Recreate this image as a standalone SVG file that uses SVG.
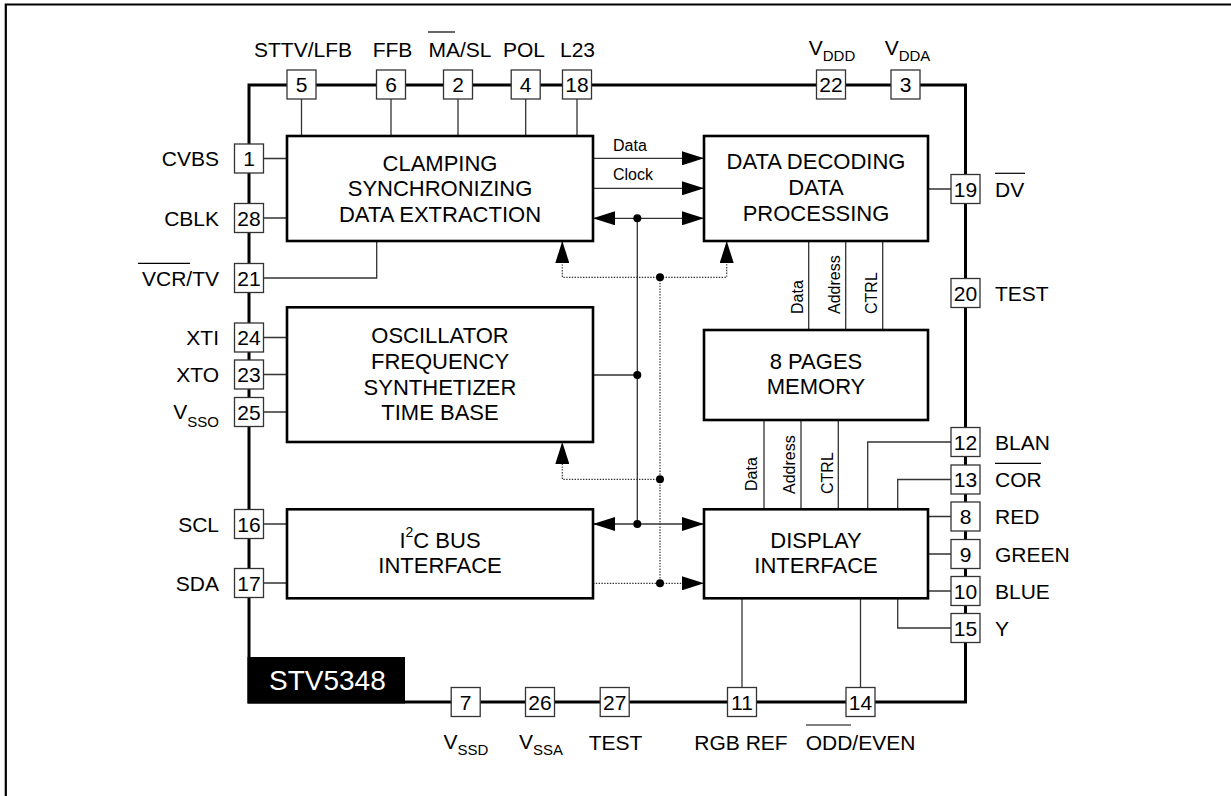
<svg xmlns="http://www.w3.org/2000/svg" width="1231" height="796" viewBox="0 0 1231 796">
<defs>
<style>
text{font-family:"Liberation Sans",Arial,Helvetica,sans-serif;fill:#000}
.lbl{font-size:21px}
.num{font-size:21px;text-anchor:middle}
.blk{font-size:22px;text-anchor:middle}
.sm{font-size:16px}
.mid{text-anchor:middle}
.end{text-anchor:end}
.pin{fill:#fff;stroke:#333;stroke-width:1.3}
.box{fill:#fff;stroke:#000;stroke-width:2.6}
.w{fill:none;stroke:#333;stroke-width:1.3}
.dot{fill:none;stroke:#333;stroke-width:1.2;stroke-dasharray:1.4 1.4}
.ov{stroke:#000;stroke-width:1.2}
</style>
<marker id="arr" viewBox="0 0 22 14" refX="22" refY="7" markerWidth="22" markerHeight="14" markerUnits="userSpaceOnUse" orient="auto-start-reverse"><path d="M0,0 L22,7 L0,14 z" fill="#000" stroke="none"/></marker>
</defs>
<rect width="1231" height="796" fill="#fff"/>
<g id="frame"><path d="M5.8,796 V4.5 H1231" fill="none" stroke="#000" stroke-width="2.2"/></g>
<g id="chip">
<rect x="249" y="85" width="716.5" height="617" fill="none" stroke="#000" stroke-width="3"/>
<rect x="247.5" y="657" width="157.5" height="46.5" fill="#000"/>
<text x="269" y="690" style="font-size:28px;fill:#fff">STV5348</text>
</g>
<g id="connectors">
<path class="w" d="M301.5,99 V136 M391,99 V136 M458,99 V136 M525.7,99 V136 M577,99 V136"/>
<path class="w" d="M263.5,158.5 H287 M263.5,218 H287 M263.5,278 H376.7 V241 M263.5,337.5 H287 M263.5,374.5 H287 M263.5,412 H287 M263.5,524 H287 M263.5,583 H287"/>
<path class="w" d="M928,189 H951 M951,442 H867.7 V509.3 M951,479.5 H897.7 V509.3 M928,516.5 H951 M928,554 H951 M928,591 H951 M897.7,598.3 V628 H951"/>
<path class="w" d="M742,598.3 V687.5 M860.5,598.3 V687.5"/>
<path class="w" d="M808.7,241 V330 M845.7,241 V330 M882.7,241 V330 M764,420 V509.3 M801,420 V509.3 M838.3,420 V509.3"/>
<line class="w" x1="593" y1="158.3" x2="704" y2="158.3" marker-end="url(#arr)"/>
<line class="w" x1="593" y1="188.3" x2="704" y2="188.3" marker-end="url(#arr)"/>
<line class="w" x1="593" y1="218.3" x2="704" y2="218.3" marker-start="url(#arr)" marker-end="url(#arr)"/>
<line class="w" x1="593" y1="524" x2="704" y2="524" marker-start="url(#arr)" marker-end="url(#arr)"/>
<path class="w" d="M637.3,218.3 V524 M593,375 H637.3"/>
<path class="dot" d="M660,277.3 V583.3"/>
<path class="dot" d="M660,277.3 H562.3 V241" marker-end="url(#arr)"/>
<path class="dot" d="M660,277.3 H726.7 V241" marker-end="url(#arr)"/>
<path class="dot" d="M660,479.3 H562.3 V442" marker-end="url(#arr)"/>
<path class="dot" d="M593,583.3 H704" marker-end="url(#arr)"/>
<g fill="#000"><circle cx="637.3" cy="218.3" r="4"/><circle cx="637.3" cy="375" r="4"/><circle cx="637.3" cy="524" r="4"/><circle cx="660" cy="277.3" r="4"/><circle cx="660" cy="479.3" r="4"/><circle cx="660" cy="583.3" r="4"/></g>
<text class="sm" x="613" y="151">Data</text>
<text class="sm" x="613" y="180">Clock</text>
<text class="sm" transform="translate(802.7,314) rotate(-90)">Data</text>
<text class="sm" transform="translate(840,314) rotate(-90)">Address</text>
<text class="sm" transform="translate(876.7,314) rotate(-90)">CTRL</text>
<text class="sm" transform="translate(757,491) rotate(-90)">Data</text>
<text class="sm" transform="translate(795,494) rotate(-90)">Address</text>
<text class="sm" transform="translate(832.5,494) rotate(-90)">CTRL</text>
</g>
<g id="clamping"><rect class="box" x="287" y="136" width="306" height="105"/>
<text class="blk" x="440" y="170.7">CLAMPING</text><text class="blk" x="440" y="196.2">SYNCHRONIZING</text><text class="blk" x="440" y="221.7">DATA EXTRACTION</text></g>
<g id="decoding"><rect class="box" x="704" y="136" width="224" height="105"/>
<text class="blk" x="816" y="169.3">DATA DECODING</text><text class="blk" x="816" y="195">DATA</text><text class="blk" x="816" y="220.7">PROCESSING</text></g>
<g id="oscillator"><rect class="box" x="287" y="307.3" width="306" height="134.7"/>
<text class="blk" x="440" y="343.3">OSCILLATOR</text><text class="blk" x="440" y="369">FREQUENCY</text><text class="blk" x="440" y="394.7">SYNTHETIZER</text><text class="blk" x="440" y="420.3">TIME BASE</text></g>
<g id="memory"><rect class="box" x="704" y="330" width="224" height="90"/>
<text class="blk" x="816" y="369">8 PAGES</text><text class="blk" x="816" y="394.3">MEMORY</text></g>
<g id="i2c"><rect class="box" x="287" y="509.3" width="306" height="89"/>
<text class="blk" x="440" y="548.3">I<tspan style="font-size:14px" dy="-11">2</tspan><tspan dy="11">C BUS</tspan></text><text class="blk" x="440" y="573.3">INTERFACE</text></g>
<g id="display"><rect class="box" x="704" y="509.3" width="224" height="89"/>
<text class="blk" x="816" y="548.3">DISPLAY</text><text class="blk" x="816" y="573.3">INTERFACE</text></g>
<g id="pins-top">
<rect class="pin" x="287" y="70" width="29" height="29"/><text class="num" x="301.5" y="92">5</text><text class="lbl mid" x="303" y="57">STTV/LFB</text>
<rect class="pin" x="376.5" y="70" width="29" height="29"/><text class="num" x="391" y="92">6</text><text class="lbl mid" x="392.5" y="57">FFB</text>
<rect class="pin" x="443.5" y="70" width="29" height="29"/><text class="num" x="458" y="92">2</text><text class="lbl mid" x="460" y="57">MA/SL</text><line class="ov" x1="428" y1="32" x2="455" y2="32"/>
<rect class="pin" x="511.2" y="70" width="29" height="29"/><text class="num" x="525.7" y="92">4</text><text class="lbl mid" x="524" y="57">POL</text>
<rect class="pin" x="562.5" y="70" width="29" height="29"/><text class="num" x="577" y="92">18</text><text class="lbl mid" x="577.5" y="57">L23</text>
<rect class="pin" x="816.5" y="70" width="29" height="29"/><text class="num" x="831" y="92">22</text><text class="lbl mid" x="832" y="55">V<tspan style="font-size:15px" dy="6">DDD</tspan></text>
<rect class="pin" x="891" y="70" width="29" height="29"/><text class="num" x="905.5" y="92">3</text><text class="lbl mid" x="907.5" y="55">V<tspan style="font-size:15px" dy="6">DDA</tspan></text>
</g>
<g id="pins-left">
<rect class="pin" x="234.5" y="144" width="29" height="29"/><text class="num" x="249" y="166">1</text><text class="lbl end" x="219" y="166">CVBS</text>
<rect class="pin" x="234.5" y="203.5" width="29" height="29"/><text class="num" x="249" y="225.5">28</text><text class="lbl end" x="219" y="225.5">CBLK</text>
<rect class="pin" x="234.5" y="263.5" width="29" height="29"/><text class="num" x="249" y="285.5">21</text><text class="lbl end" x="219" y="285.5">VCR/TV</text><line class="ov" x1="138" y1="263.3" x2="190" y2="263.3"/>
<rect class="pin" x="234.5" y="323" width="29" height="29"/><text class="num" x="249" y="345">24</text><text class="lbl end" x="219" y="345">XTI</text>
<rect class="pin" x="234.5" y="360" width="29" height="29"/><text class="num" x="249" y="382">23</text><text class="lbl end" x="219" y="382">XTO</text>
<rect class="pin" x="234.5" y="397.5" width="29" height="29"/><text class="num" x="249" y="419.5">25</text><text class="lbl end" x="219" y="418.5">V<tspan style="font-size:15px" dy="8">SSO</tspan></text>
<rect class="pin" x="234.5" y="509.5" width="29" height="29"/><text class="num" x="249" y="531.5">16</text><text class="lbl end" x="219" y="531.5">SCL</text>
<rect class="pin" x="234.5" y="568.5" width="29" height="29"/><text class="num" x="249" y="590.5">17</text><text class="lbl end" x="219" y="590.5">SDA</text>
</g>
<g id="pins-right">
<rect class="pin" x="951" y="174.5" width="29" height="29"/><text class="num" x="965.5" y="196.5">19</text><text class="lbl" x="995" y="197">DV</text><line class="ov" x1="995" y1="173.3" x2="1025" y2="173.3"/>
<rect class="pin" x="951" y="278.5" width="29" height="29"/><text class="num" x="965.5" y="300.5">20</text><text class="lbl" x="995" y="301">TEST</text>
<rect class="pin" x="951" y="427.5" width="29" height="29"/><text class="num" x="965.5" y="449.5">12</text><text class="lbl" x="995" y="449.5">BLAN</text>
<rect class="pin" x="951" y="465" width="29" height="29"/><text class="num" x="965.5" y="487">13</text><text class="lbl" x="995" y="487">COR</text><line class="ov" x1="995" y1="463.3" x2="1041" y2="463.3"/>
<rect class="pin" x="951" y="502" width="29" height="29"/><text class="num" x="965.5" y="524">8</text><text class="lbl" x="995" y="524">RED</text>
<rect class="pin" x="951" y="539.5" width="29" height="29"/><text class="num" x="965.5" y="561.5">9</text><text class="lbl" x="995" y="561.5">GREEN</text>
<rect class="pin" x="951" y="576.5" width="29" height="29"/><text class="num" x="965.5" y="598.5">10</text><text class="lbl" x="995" y="598.5">BLUE</text>
<rect class="pin" x="951" y="613.5" width="29" height="29"/><text class="num" x="965.5" y="635.5">15</text><text class="lbl" x="995" y="635.5">Y</text>
</g>
<g id="pins-bottom">
<rect class="pin" x="451.2" y="687.5" width="29" height="29"/><text class="num" x="465.7" y="709.5">7</text><text class="lbl mid" x="466" y="749">V<tspan style="font-size:15px" dy="6">SSD</tspan></text>
<rect class="pin" x="525.5" y="687.5" width="29" height="29"/><text class="num" x="540" y="709.5">26</text><text class="lbl mid" x="541" y="749">V<tspan style="font-size:15px" dy="6">SSA</tspan></text>
<rect class="pin" x="600.2" y="687.5" width="29" height="29"/><text class="num" x="614.7" y="709.5">27</text><text class="lbl mid" x="615.5" y="750">TEST</text>
<rect class="pin" x="727.5" y="687.5" width="29" height="29"/><text class="num" x="742" y="709.5">11</text><text class="lbl mid" x="741" y="750">RGB REF</text>
<rect class="pin" x="846" y="687.5" width="29" height="29"/><text class="num" x="860.5" y="709.5">14</text><text class="lbl mid" x="860.5" y="750">ODD/EVEN</text><line class="ov" x1="806" y1="725" x2="851" y2="725"/>
</g>
</svg>
